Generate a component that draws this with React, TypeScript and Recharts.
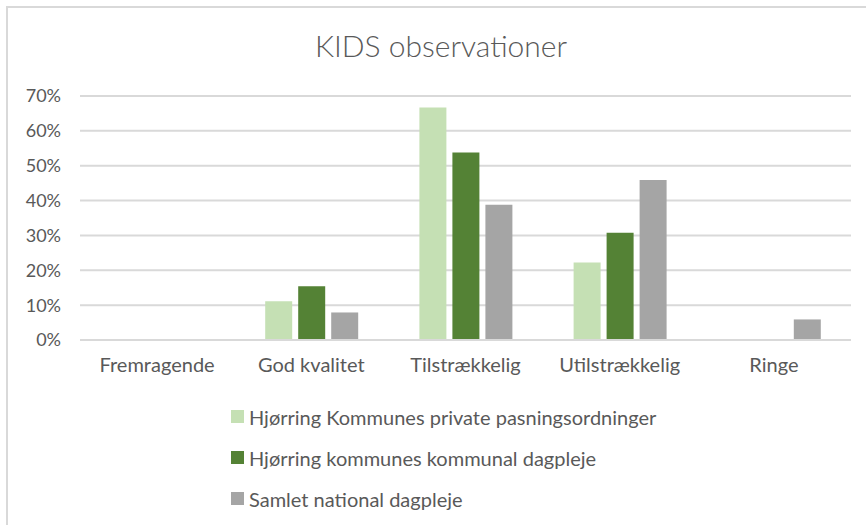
import React from 'react';
import { BarChart, Bar, XAxis, YAxis, CartesianGrid, Legend } from 'recharts';

const categories = ['Fremragende', 'God kvalitet', 'Tilstrækkelig', 'Utilstrækkelig', 'Ringe'];
const privateValues = [0, 0.111, 0.667, 0.222, 0];
const kommunalValues = [0, 0.154, 0.538, 0.308, 0];
const nationalValues = [0, 0.079, 0.388, 0.459, 0.059];
const yTicks = [0, 0.1, 0.2, 0.3, 0.4, 0.5, 0.6, 0.7];

const seriesNames = [
  'Hjørring Kommunes private pasningsordninger',
  'Hjørring kommunes kommunal dagpleje',
  'Samlet national dagpleje',
];
const seriesColors = ['#C5E0B4', '#548235', '#A5A5A5'];

const data = categories.map((name, i) => ({
  name,
  privat: privateValues[i],
  kommunal: kommunalValues[i],
  national: nationalValues[i],
}));

const FONT = 'Lato, "Noto Sans", sans-serif';
const TEXT = '#595959';

const renderLegend = (props: any) => {
  const items = props.payload || [];
  return (
    <div style={{ fontFamily: FONT, fontSize: 20, color: TEXT }}>
      {items.map((it: any) => (
        <div key={it.value} style={{ display: 'flex', alignItems: 'center', height: 41 }}>
          <span style={{ width: 13, height: 13, background: it.color, marginRight: 5, display: 'inline-block' }} />
          <span>{it.value}</span>
        </div>
      ))}
    </div>
  );
};

export default function App() {
  return (
    <div style={{ position: 'absolute', left: 0, top: 0, width: 866, height: 525, background: '#fff', overflow: 'hidden' }}>
      {/* chart frame, runs off the right and bottom edge like the screenshot */}
      <div style={{ position: 'absolute', left: 6, top: 6, width: 900, height: 600, border: '2px solid #D9D9D9', boxSizing: 'border-box' }} />
      <div style={{ position: 'absolute', left: 16, top: 27, width: 850, textAlign: 'center', fontFamily: FONT, fontSize: 30, color: TEXT, fontWeight: 300 }}>
        KIDS observationer
      </div>
      <div style={{ position: 'absolute', left: 0, top: 0 }}>
        <BarChart
          width={866}
          height={525}
          data={data}
          margin={{ top: 96, right: 15, left: 10, bottom: 155 }}
          barSize={27}
          barGap={6}
        >
          <CartesianGrid vertical={false} stroke="#D9D9D9" strokeWidth={2} />
          <XAxis
            dataKey="name"
            axisLine={{ stroke: '#D9D9D9', strokeWidth: 2 }}
            tickLine={false}
            height={30}
            tickMargin={12}
            tick={{ fill: TEXT, fontSize: 20, fontFamily: FONT }}
            interval={0}
          />
          <YAxis
            width={70}
            domain={[0, 0.7]}
            ticks={yTicks}
            interval={0}
            axisLine={false}
            tickLine={false}
            tickMargin={13}
            tickFormatter={(v: number) => `${Math.round(v * 100)}%`}
            tick={{ fill: TEXT, fontSize: 18, fontFamily: FONT }}
          />
          <Legend
            layout="vertical"
            align="center"
            verticalAlign="middle"
            content={renderLegend}
            wrapperStyle={{ left: 231, top: 396, width: 500, bottom: 'auto' }}
          />
          <Bar dataKey="privat" name={seriesNames[0]} fill={seriesColors[0]} isAnimationActive={false} />
          <Bar dataKey="kommunal" name={seriesNames[1]} fill={seriesColors[1]} isAnimationActive={false} />
          <Bar dataKey="national" name={seriesNames[2]} fill={seriesColors[2]} isAnimationActive={false} />
        </BarChart>
      </div>
    </div>
  );
}
